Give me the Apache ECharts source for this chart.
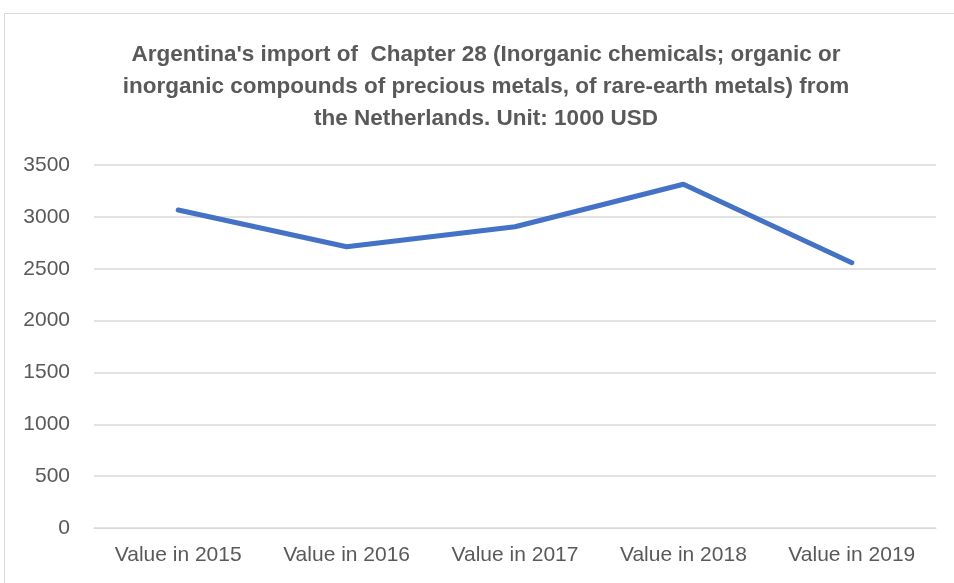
<!DOCTYPE html>
<html>
<head>
<meta charset="utf-8">
<script src="https://cdn.jsdelivr.net/npm/echarts@6/dist/echarts.min.js"></script>
<style>
html,body{margin:0;padding:0;background:#fff;}
#chart{width:954px;height:583px;}
</style>
</head>
<body>
<div id="chart"></div>
<script>
const titleText = "Argentina's import of  Chapter 28 (Inorganic chemicals; organic or\ninorganic compounds of precious metals, of rare-earth metals) from\nthe Netherlands. Unit: 1000 USD";
const categories = ["Value in 2015", "Value in 2016", "Value in 2017", "Value in 2018", "Value in 2019"];
const values = [3066, 2712, 2905, 3314, 2558];
const yMin = 0, yMax = 3500, yStep = 500;

const FONT = "'Liberation Sans', Arial, sans-serif";
const chart = echarts.init(document.getElementById('chart'), null, {renderer: 'canvas'});
chart.setOption({
  animation: false,
  backgroundColor: '#ffffff',
  graphic: [{
    type: 'rect',
    shape: {x: 4.5, y: 13.5, width: 1000, height: 700},
    style: {fill: 'none', stroke: '#d9d9d9', lineWidth: 1},
    silent: true
  }],
  title: {
    text: titleText,
    left: 481,
    textAlign: 'center',
    top: 34,
    textStyle: {
      fontFamily: FONT,
      fontWeight: 'bold',
      fontSize: 22.5,
      color: '#595959',
      lineHeight: 32
    }
  },
  grid: {left: 94, right: 18, top: 165, bottom: 55, containLabel: false},
  xAxis: {
    type: 'category',
    data: categories,
    boundaryGap: true,
    axisLine: {show: true, lineStyle: {color: '#d9d9d9', width: 1}},
    axisTick: {show: false},
    axisLabel: {fontFamily: FONT, fontSize: 21, color: '#595959', margin: 17}
  },
  yAxis: {
    type: 'value',
    min: yMin, max: yMax, interval: yStep,
    axisLine: {show: false},
    axisTick: {show: false},
    splitLine: {lineStyle: {color: '#d9d9d9', width: 1.5}},
    axisLabel: {fontFamily: FONT, fontSize: 21, color: '#595959', margin: 24,
      formatter: function (v) { return String(v); }}
  },
  series: [{
    type: 'line',
    data: values,
    showSymbol: false,
    symbol: 'none',
    lineStyle: {color: '#4472C4', width: 5, cap: 'round', join: 'round'},
    itemStyle: {color: '#4472C4'}
  }]
});
</script>
</body>
</html>
